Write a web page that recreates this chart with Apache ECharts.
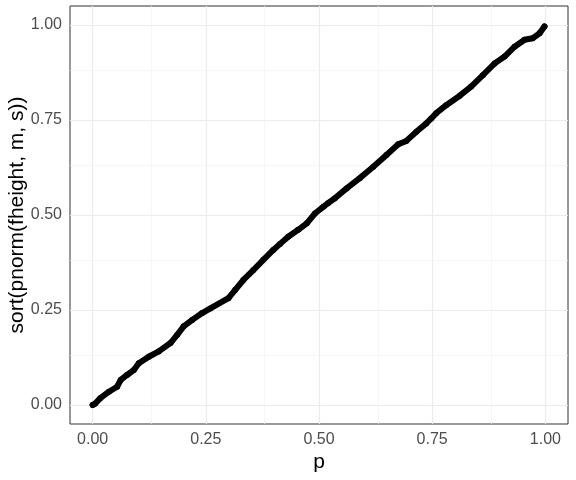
<!DOCTYPE html>
<html>
<head>
<meta charset="utf-8">
<script src="https://cdn.jsdelivr.net/npm/echarts@6/dist/echarts.min.js"></script>
<style>html,body{margin:0;padding:0;background:#fff}#c{width:576px;height:480px}</style>
</head>
<body>
<div id="c"></div>
<script>
var pVals = [0, 0.005, 0.017, 0.036, 0.054, 0.062, 0.076, 0.091, 0.102, 0.124, 0.146, 0.172, 0.187, 0.201, 0.220, 0.242, 0.260, 0.300, 0.315, 0.333, 0.355, 0.377, 0.399, 0.414, 0.432, 0.454, 0.473, 0.491, 0.510, 0.520, 0.535, 0.561, 0.590, 0.620, 0.649, 0.675, 0.693, 0.715, 0.737, 0.748, 0.759, 0.781, 0.811, 0.836, 0.862, 0.888, 0.910, 0.932, 0.954, 0.972, 0.987, 0.998];
var sortedVals = [0, 0.003, 0.018, 0.035, 0.048, 0.066, 0.079, 0.092, 0.110, 0.127, 0.141, 0.163, 0.185, 0.207, 0.224, 0.242, 0.254, 0.281, 0.303, 0.329, 0.355, 0.382, 0.408, 0.424, 0.443, 0.461, 0.478, 0.504, 0.522, 0.531, 0.544, 0.570, 0.597, 0.627, 0.658, 0.686, 0.695, 0.719, 0.741, 0.754, 0.768, 0.789, 0.814, 0.838, 0.868, 0.899, 0.917, 0.943, 0.961, 0.965, 0.978, 0.996];
var majorTicks = [0, 0.25, 0.5, 0.75, 1];
var minorTicks = [0.125, 0.375, 0.625, 0.875];
var xTitle = 'p';
var yTitle = 'sort(pnorm(fheight, m, s))';

var chart = echarts.init(document.getElementById('c'), null, {renderer: 'canvas'});
var data = pVals.map(function (p, i) { return [p, sortedVals[i]]; });
var gridLines = [];
majorTicks.forEach(function (v) {
  gridLines.push({xAxis: v, lineStyle: {color: '#EBEBEB', width: 1.1, type: 'solid'}});
  gridLines.push({yAxis: v, lineStyle: {color: '#EBEBEB', width: 1.1, type: 'solid'}});
});
minorTicks.forEach(function (v) {
  gridLines.push({xAxis: v, lineStyle: {color: '#F2F2F2', width: 0.7, type: 'solid'}});
  gridLines.push({yAxis: v, lineStyle: {color: '#F2F2F2', width: 0.7, type: 'solid'}});
});
var fmt = function (v) { return v.toFixed(2); };
chart.setOption({
  animation: false,
  backgroundColor: '#ffffff',
  grid: {left: 70, right: 8, top: 6, bottom: 56, show: true, borderColor: '#333333', borderWidth: 1, backgroundColor: 'transparent', containLabel: false, outerBoundsMode: 'none'},
  xAxis: {
    type: 'value', min: -0.05, max: 1.05,
    name: xTitle, nameLocation: 'middle', nameGap: 28, nameMoveOverlap: false,
    nameTextStyle: {fontFamily: 'Liberation Sans', fontSize: 21, color: '#000'},
    axisLine: {show: false},
    axisTick: {show: true, length: 4, customValues: majorTicks, lineStyle: {color: '#333333', width: 1}},
    axisLabel: {customValues: majorTicks, formatter: fmt, margin: 8, fontFamily: 'Liberation Sans', fontSize: 16, color: '#4D4D4D'},
    splitLine: {show: false}
  },
  yAxis: {
    type: 'value', min: -0.05, max: 1.05,
    name: yTitle, nameLocation: 'middle', nameGap: 42, nameRotate: 90, nameMoveOverlap: false,
    nameTextStyle: {fontFamily: 'Liberation Sans', fontSize: 21, color: '#000'},
    axisLine: {show: false},
    axisTick: {show: true, length: 4, customValues: majorTicks, lineStyle: {color: '#333333', width: 1}},
    axisLabel: {customValues: majorTicks, formatter: fmt, margin: 8, fontFamily: 'Liberation Sans', fontSize: 16, color: '#4D4D4D'},
    splitLine: {show: false}
  },
  series: [
    {
      type: 'scatter', data: [], z: 1, silent: true,
      markLine: {silent: true, symbol: 'none', label: {show: false}, animation: false, data: gridLines}
    },
    {
      type: 'line', data: data, z: 5,
      showSymbol: true, symbol: 'circle', symbolSize: 6,
      itemStyle: {color: '#000'},
      lineStyle: {color: '#000', width: 6, cap: 'round', join: 'round'}
    }
  ]
});
</script>
</body>
</html>
